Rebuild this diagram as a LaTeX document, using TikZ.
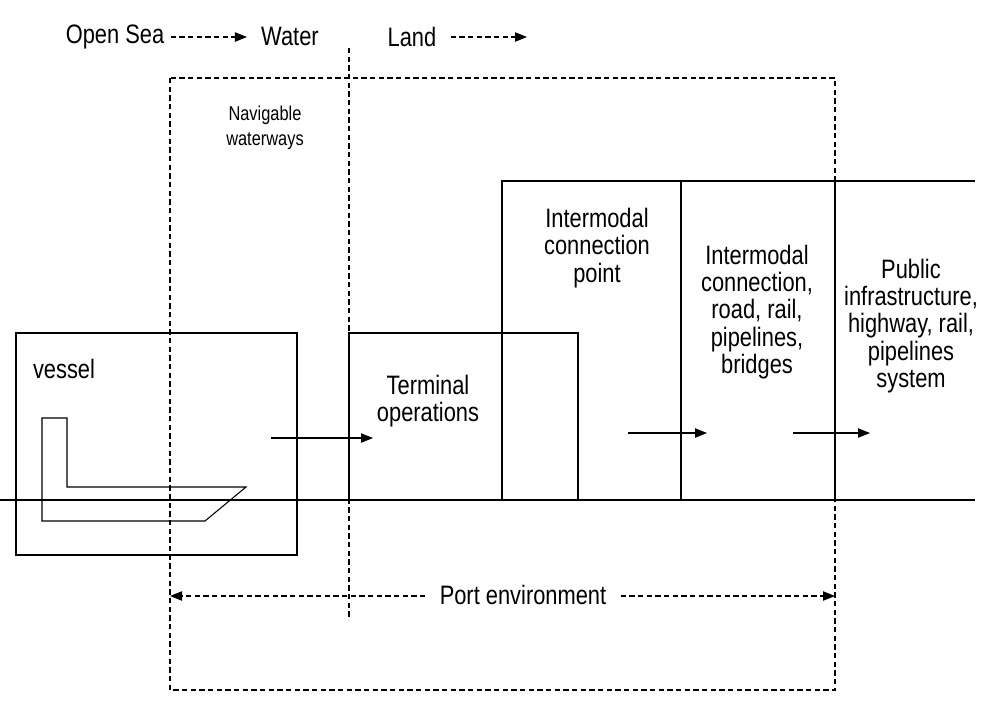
\documentclass[tikz,border=0pt]{standalone}
\usepackage{fontspec}
\setmainfont{Liberation Sans}[FakeStretch=0.82]
\usetikzlibrary{arrows.meta,calc}
\begin{document}
\begin{tikzpicture}[x=0.75pt,y=-0.75pt,
  box/.style={line width=0.9pt},
  dsh/.style={line width=0.8pt,dash pattern=on 4pt off 2.5pt},
  arr/.style={line width=0.8pt,-{Triangle[length=9pt,width=7pt]}},
  txt/.style={font=\fontsize{20}{20.5}\selectfont,align=center,inner sep=0pt},
  lab/.style={font=\fontsize{20}{20.5}\selectfont,inner sep=0pt}]
\useasboundingbox (0,0) rectangle (992,719);
% ground line
\draw[box] (0,500) -- (975,500);
% vessel box
\draw[box] (16,333) rectangle (297,555);
\draw[line width=0.8pt] (42,418) -- (67,418) -- (67,487) -- (246,487) -- (205,521) -- (42,521) -- cycle;
\node[lab] (vessel) at (64,369) {vessel};
% port box and water/land divider
\draw[dsh] (170,78) rectangle (835,690);
\draw[dsh] (349,48) -- (349,620);
% terminal
\draw[box] (349,500) -- (349,333) -- (578,333) -- (578,500);
% intermodal
\draw[box] (975,181) -- (502,181) -- (502,500);
\draw[box] (681,181) -- (681,500);
\draw[box] (835,181) -- (835,500);
% texts
\node[lab] (open) at (115,37) {Open Sea};
\node[lab] (water) at (290,36) {Water};
\node[lab] (land) at (412,37) {Land};
\coordinate (la) at (527,37);
\draw[dsh,-{Triangle[length=9pt,width=7pt]}] ($(open.east)+(6,0)$) -- ($(water.west)+(-14,1)$);
\draw[dsh,-{Triangle[length=9pt,width=7pt]}] ($(land.east)+(14,0)$) -- (la);
\node[txt,font=\fontsize{15}{19}\selectfont] (nav) at (265,128) {Navigable\\waterways};
\node[txt] (term) at (428,401) {Terminal\\operations};
\node[txt] (icp) at (597,248) {Intermodal\\connection\\point};
\node[txt] (icr) at (757,312) {Intermodal\\connection,\\road, rail,\\pipelines,\\bridges};
\node[txt] (pub) at (911,326) {Public\\infrastructure,\\highway, rail,\\pipelines\\system};
\coordinate (a1) at (271,438); \coordinate (b1) at (373,438);
\coordinate (a2) at (628,433); \coordinate (b2) at (707,433);
\coordinate (a3) at (793,433); \coordinate (b3) at (870,433);
\draw[arr] (a1) -- (b1);
\draw[arr] (a2) -- (b2);
\draw[arr] (a3) -- (b3);
\node[lab] (port) at (523,595) {Port environment};
\coordinate (pl) at (170,596); \coordinate (pr) at (835,596);
\draw[dsh,-{Triangle[length=9pt,width=7pt]}] ($(port.west)+(-14,1)$) -- (pl);
\draw[dsh,-{Triangle[length=9pt,width=7pt]}] ($(port.east)+(14,1)$) -- (pr);
\end{tikzpicture}
\end{document}
